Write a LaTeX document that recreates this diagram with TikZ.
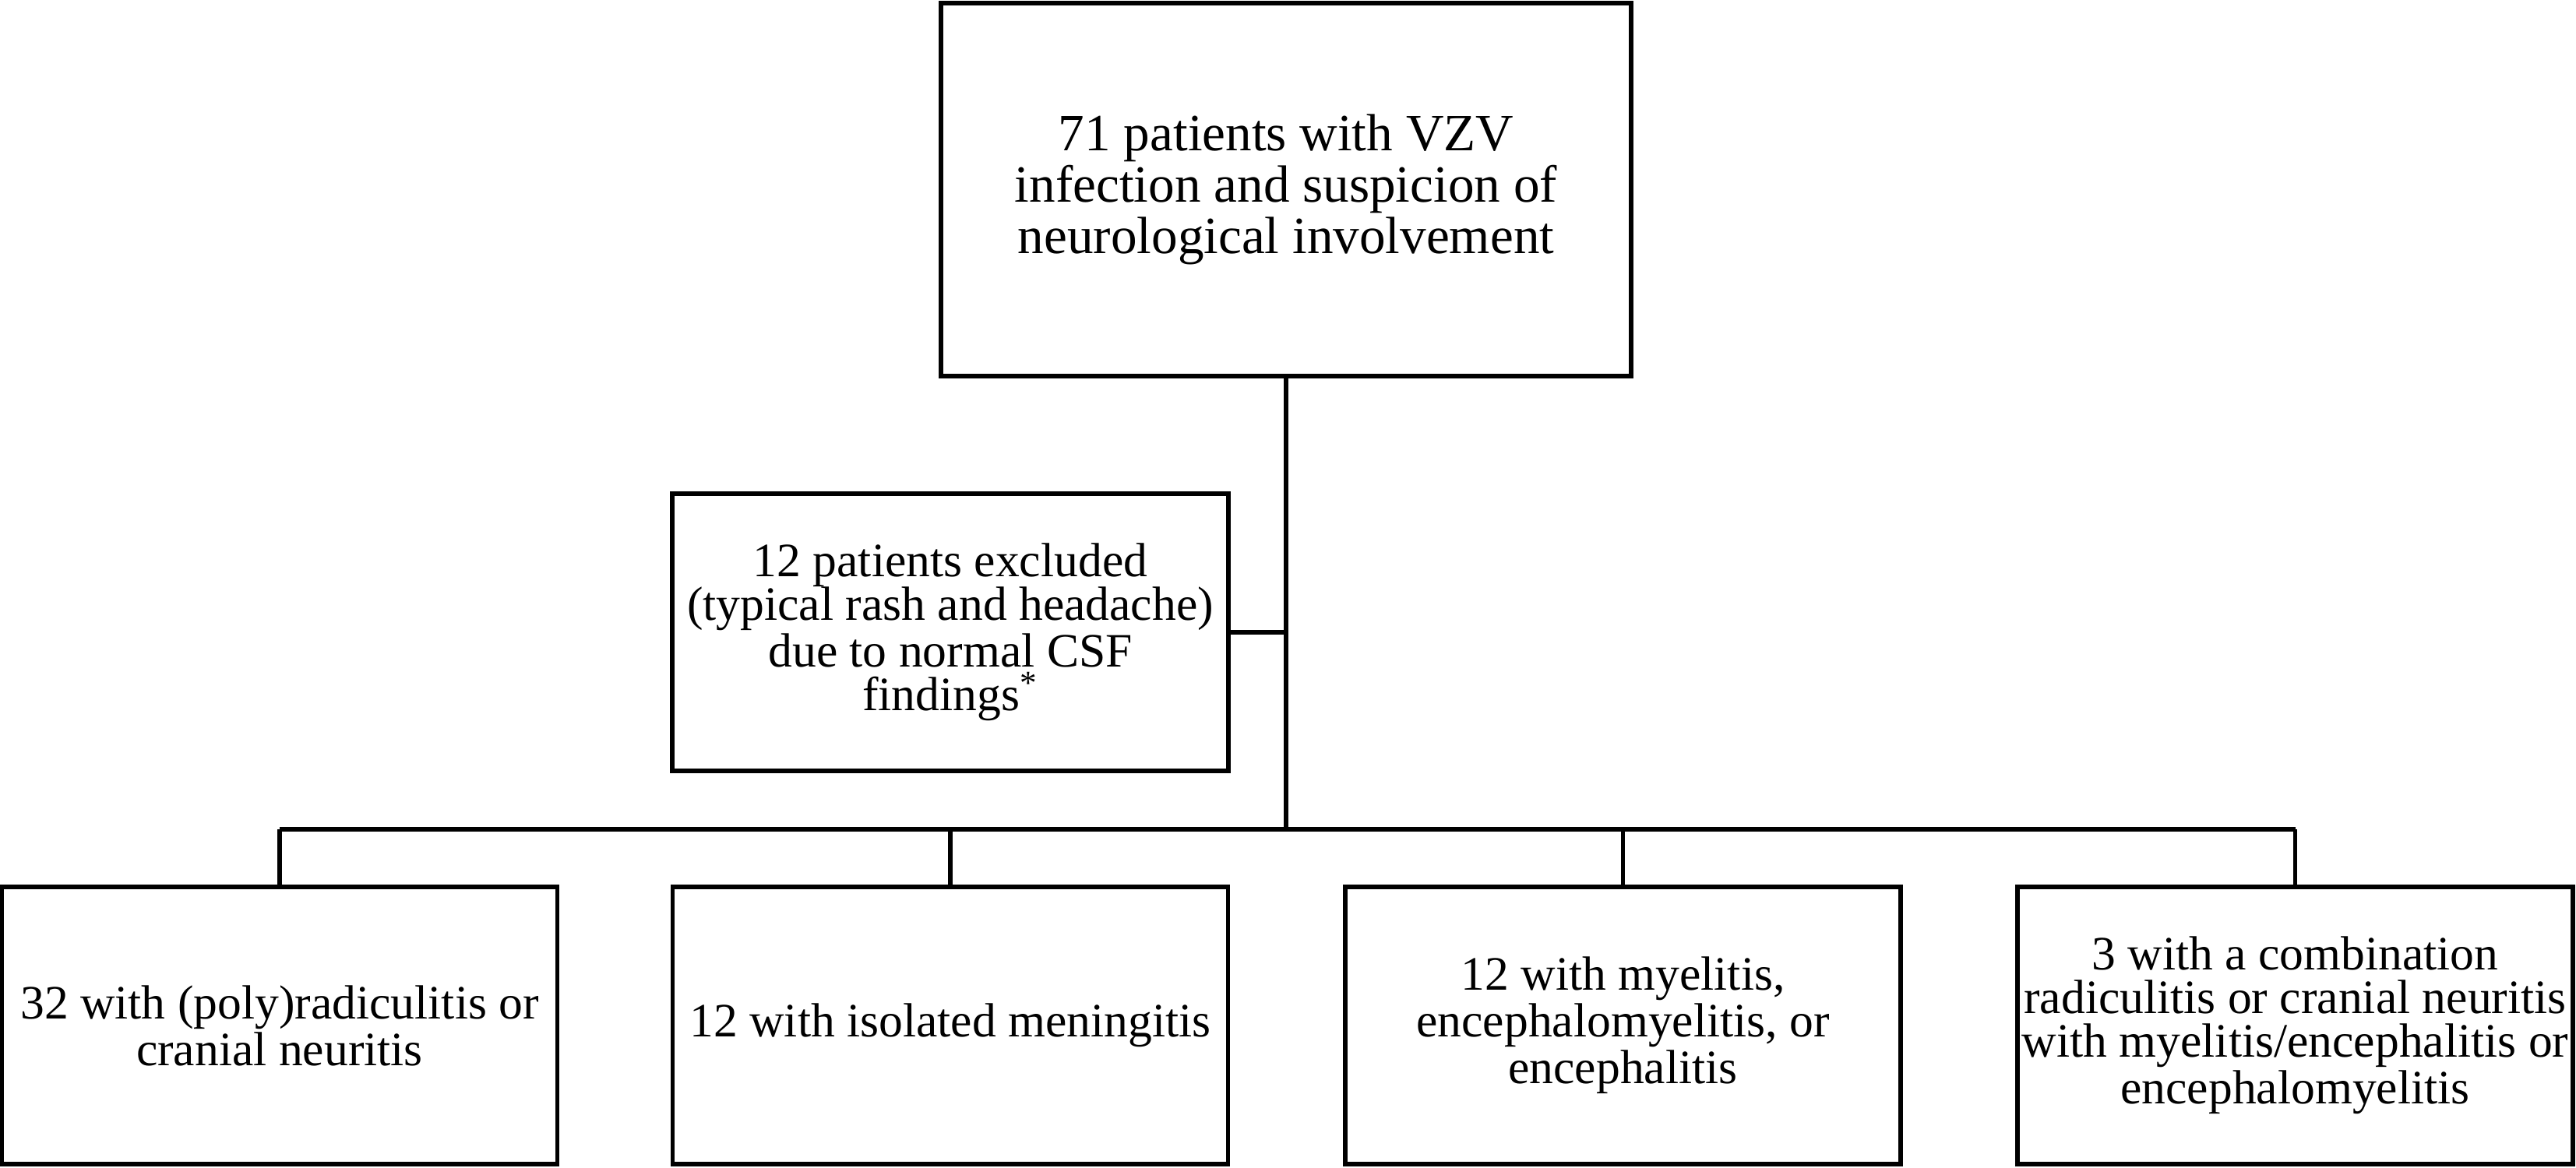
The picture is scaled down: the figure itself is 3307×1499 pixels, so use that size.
\documentclass[tikz,border=0pt]{standalone}
\usepackage{fontspec}
\setmainfont{Liberation Serif}
\begin{document}
\begin{tikzpicture}[x=0.25pt,y=0.25pt,
  box/.style={draw=black, line width=1.3pt, rectangle, inner sep=0pt, align=center,
    minimum width=178.25pt, minimum height=89pt, font=\fontsize{15.4}{14}\selectfont},
  topbox/.style={box, minimum width=221.5pt, minimum height=119.75pt,
    font=\fontsize{16.8}{16.5}\selectfont},
  link/.style={draw=black, line width=1.3pt}]
\useasboundingbox (0,0) rectangle (3307,1499);
\node[topbox] (top) at (1651,1255.5) {71 patients with VZV\\infection and suspicion of\\neurological involvement};
\node[box, minimum width=178.5pt] (excl) at (1220,687) {12 patients excluded\\(typical rash and headache)\\due to normal CSF\\findings\textsuperscript{*}};
\node[box] (b1) at (359,182) {32 with (poly)radiculitis or\\cranial neuritis};
\node[box] (b2) at (1220,182) {12 with isolated meningitis};
\node[box] (b3) at (2083.5,182) {12 with myelitis,\\encephalomyelitis, or\\encephalitis};
\node[box] (b4) at (2946.5,182) {3 with a combination\\radiculitis or cranial neuritis\\with myelitis/encephalitis or\\encephalomyelitis};
\coordinate (bar) at (1651,434);
\draw[link] (top.south) -- (bar);
\draw[link] (excl.east) -- (excl.east -| top.south);
\draw[link] (b1.north |- bar) -- (b4.north |- bar);
\foreach \b in {b1,b2,b3,b4} \draw[link] (\b.north |- bar) -- (\b.north);
\end{tikzpicture}
\end{document}
